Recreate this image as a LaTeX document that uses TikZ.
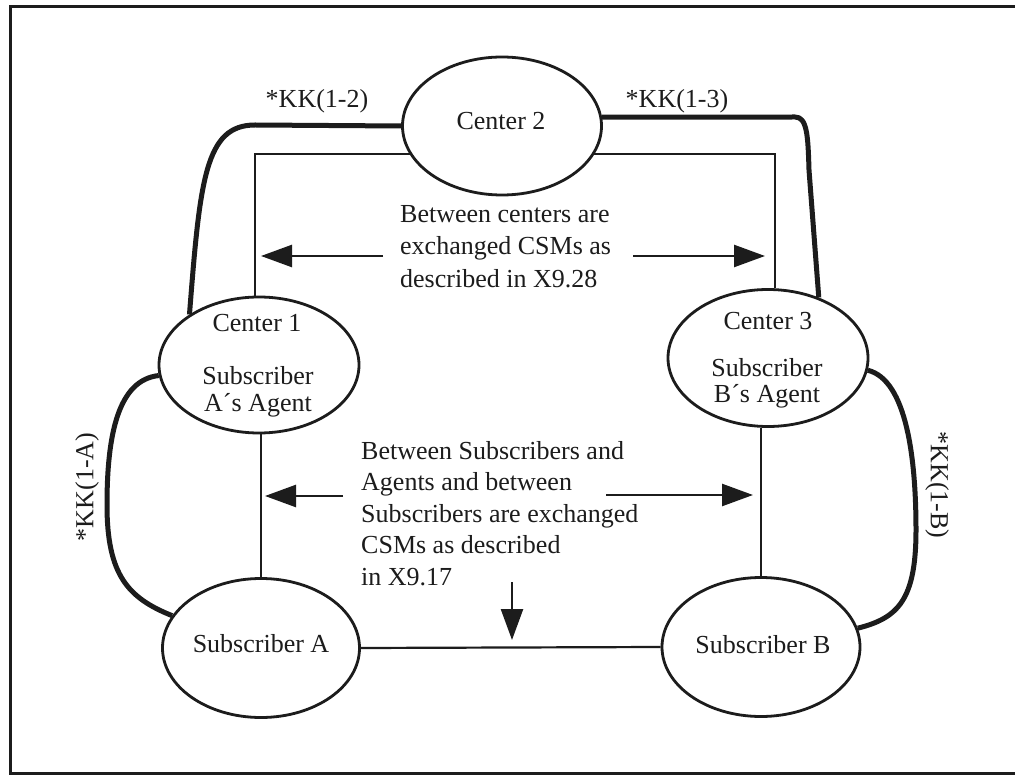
\documentclass[tikz,border=0pt]{standalone}
\usepackage{fontspec}
\setmainfont{Liberation Serif}
\usetikzlibrary{shapes.geometric,arrows.meta}
\definecolor{ink}{RGB}{28,28,28}
\begin{document}
\begin{tikzpicture}[x=1pt,y=-1pt,
  every node/.style={inner sep=0pt, text=ink},
  oval/.style={ellipse, draw=ink, line width=2.8pt},
  lbl/.style={anchor=base, font=\fontsize{26}{30}\selectfont},
  conn/.style={draw=ink, line width=2.2pt},
  keyline/.style={draw=ink, line width=5pt, line join=round},
  arr/.style={draw=ink, line width=2.5pt, -{Triangle[length=31pt,width=22pt]}}]

% page and frame
\fill[white] (0,0) rectangle (1015,775);
\useasboundingbox (0,0) rectangle (1015,775);
\draw[ink, line width=3pt] (1015,7) -- (10,7) -- (10,773) -- (1015,773);

% parties
\node[oval, minimum width=199pt, minimum height=138pt] (c2) at (502,126) {};
\node[oval, minimum width=200pt, minimum height=136pt] (c1) at (259,365) {};
\node[oval, minimum width=200pt, minimum height=137pt] (c3) at (768,358) {};
\node[oval, minimum width=197pt, minimum height=139pt] (sa) at (261,648) {};
\node[oval, minimum width=198pt, minimum height=139pt] (sb) at (761,647) {};

% texts inside the ovals
\node[lbl] (c2t)  at (501,130) {Center 2};
\node[lbl] (c1t1) at (257,332) {Center 1};
\node[lbl] (c1t2) at (258,385) {Subscriber};
\node[lbl] (c1t3) at (258,412) {A´s Agent};
\node[lbl] (c3t1) at (768,330) {Center 3};
\node[lbl] (c3t2) at (767,377) {Subscriber};
\node[lbl] (c3t3) at (767,403) {B´s Agent};
\node[lbl] (sat)  at (261,652) {Subscriber A};
\node[lbl] (sbt)  at (763,653) {Subscriber B};

% key lines between centers and subscribers
\draw[keyline] (c1.144) .. controls (200,180) and (205,125) .. (255,125) -- (c2.180);
\draw[keyline] (c2.5) -- (795,117) .. controls (807,117) and (808,135) .. (809,170) -- (c3.50);
\draw[keyline] (c1.186) .. controls (118,380) and (107,435) .. (107,505)
               .. controls (107,575) and (128,598) .. (sa.160);
\draw[keyline] (c3.-7) .. controls (907,380) and (916,460) .. (916,530)
               .. controls (916,600) and (898,618) .. (sb.11);

\node[lbl] (k12) at (317,108) {*KK(1-2)};
\node[lbl] (k13) at (677,108) {*KK(1-3)};
\node[font=\fontsize{26}{30}\selectfont, rotate=90]  (k1a) at (87,487) {*KK(1-A)};
\node[font=\fontsize{26}{30}\selectfont, rotate=-90] (k1b) at (937,485) {*KK(1-B)};

% message paths
\draw[conn] (c2.197) -| (c1.93);
\draw[conn] (c2.-17) -| (c3.84);
\draw[conn] (sa.north) -- (sa.north |- c1.south);
\draw[conn] (sb.north) -- (sb.north |- c3.south);
\draw[conn] (sa.east) -- (sb.west);

% explanations
\node[anchor=north west, align=left, font=\fontsize{26}{32.5}\selectfont] (mid1) at (400,205)
  {Between centers are\\exchanged CSMs as\\described in X9.28};
\node[anchor=north west, align=left, font=\fontsize{26}{31.5}\selectfont] (mid2) at (361,441)
  {Between Subscribers and\\Agents and between\\Subscribers are exchanged\\CSMs as described\\in X9.17};

\coordinate (ul0) at (383,256); \coordinate (ul1) at (261,256);
\coordinate (ur0) at (633,256); \coordinate (ur1) at (765,256);
\coordinate (ll0) at (343,496); \coordinate (ll1) at (265,496);
\coordinate (lr0) at (606,495); \coordinate (lr1) at (753,495);
\coordinate (dn0) at (512,582); \coordinate (dn1) at (512,640);
\draw[arr] (ul0) -- (ul1);
\draw[arr] (ur0) -- (ur1);
\draw[arr] (ll0) -- (ll1);
\draw[arr] (lr0) -- (lr1);
\draw[arr] (dn0) -- (dn1);
\end{tikzpicture}
\end{document}
